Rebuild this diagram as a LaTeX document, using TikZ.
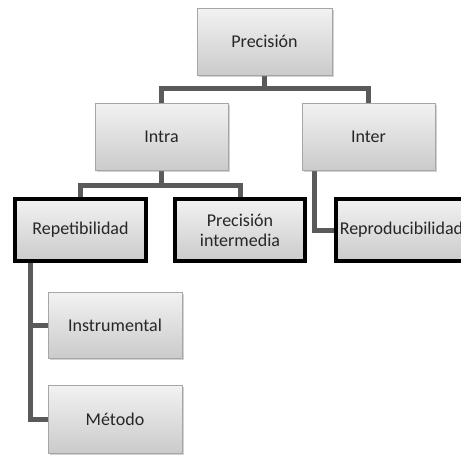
\documentclass[tikz,border=0pt]{standalone}
\usepackage{fontspec}
\setmainfont{Carlito}
\usetikzlibrary{shadows}
\pgfdeclarelayer{bg}
\pgfsetlayers{bg,main}
\definecolor{boxtop}{HTML}{F2F2F2}
\definecolor{boxbot}{HTML}{CBCBCB}
\definecolor{boxline}{HTML}{A6A6A6}
\definecolor{connc}{HTML}{5A5A5A}
\begin{document}
\begin{tikzpicture}[x=1pt,y=-1pt,
  box/.style={draw=boxline, line width=1pt, top color=boxtop, bottom color=boxbot,
    minimum width=135pt, minimum height=67pt, inner sep=0pt, align=center,
    font=\fontsize{18}{20}\selectfont, text=black!85,
    drop shadow={shadow xshift=1.5pt, shadow yshift=-1.5pt, opacity=0.35}},
  boldbox/.style={box, draw=black, line width=4pt},
  conn/.style={draw=connc, line width=5pt}]
\path[use as bounding box, clip] (0,0) rectangle (461,455);
\node[box] (prec) at (264.5,41.5) {Precisión};
\node[box, minimum width=133pt] (intra) at (161.5,136.5) {Intra};
\node[box, minimum width=133pt] (inter) at (368.5,136.5) {Inter};
\node[boldbox, minimum width=131pt, minimum height=62pt] (rep) at (80.5,230) {Repetibilidad};
\node[boldbox, minimum width=130pt, minimum height=62pt] (pint) at (240,230) {Precisión\\intermedia};
\node[boldbox, minimum width=131pt, minimum height=62pt] (repro) at (401.5,230) {Reproducibilidad};
\node[box, minimum width=134pt, minimum height=66pt] (instr) at (115,325) {Instrumental};
\node[box, minimum width=134pt, minimum height=68pt] (met) at (115,419) {Método};
\begin{pgfonlayer}{bg}
\fill[white] (0,0) rectangle (461,455);
\draw[conn] (prec.south) -- ++(0,13) -| (intra.north);
\draw[conn] (prec.south) -- ++(0,13) -| (inter.north);
\draw[conn] (intra.south) -- ++(0,15) -| (rep.north);
\draw[conn] (intra.south) -- ++(0,15) -| (pint.north);
\draw[conn] (inter.south west) ++(13,0) coordinate (ia) |- (repro.west);
\draw[conn] (rep.south west) ++(17,0) coordinate (ra) |- (instr.west);
\draw[conn] (ra) |- (met.west);
\end{pgfonlayer}
\end{tikzpicture}
\end{document}
